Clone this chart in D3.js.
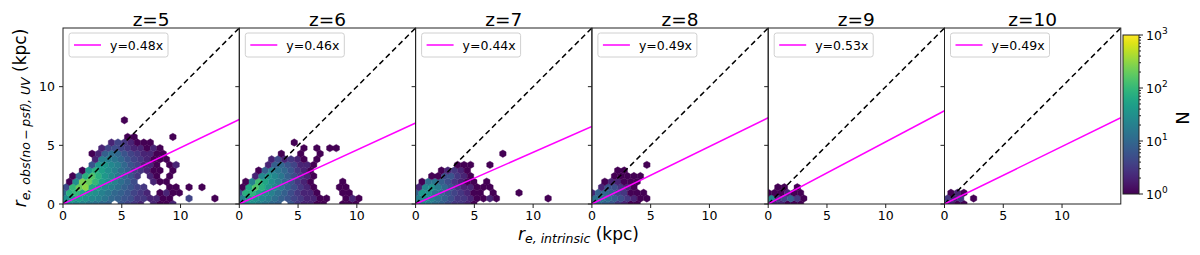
<!DOCTYPE html>
<html>
<head>
<meta charset="utf-8">
<script src="https://cdn.jsdelivr.net/npm/d3@7"></script>
<style>
  body { margin: 0; background: #fff; }
  svg text { font-family: "DejaVu Sans", sans-serif; fill: #000; }
</style>
</head>
<body>
<svg id="chart" width="1200" height="255"></svg>
<script>
// panel titles and fitted slopes
const titles = ['z=5', 'z=6', 'z=7', 'z=8', 'z=9', 'z=10'];
const slopes = [0.48, 0.46, 0.44, 0.49, 0.53, 0.49];
const xTicks = [0, 5, 10];
const yTicks = [0, 5, 10];
const cbTicks = [1, 10, 100, 1000];

// hexbin counts: one array per hex row (row j at y = j*dy, odd rows shifted half a cell)
const hexDx = 0.55;
const countsZ5 = [
  [20, 30, 25, 20, 15, 12, 10, 8, 0, 6, 4, 3, 2, 0, 2, 1, 1, 2],
  [30, 50, 45, 35, 25, 20, 15, 10, 8, 6, 5, 3, 3, 2, 2, 1, 1, 0, 0, 4, 0, 0, 0, 1],
  [10, 80, 100, 60, 40, 30, 20, 15, 10, 8, 6, 4, 3, 2, 0, 1, 2, 1, 1, 0],
  [5, 100, 200, 300, 60, 40, 25, 18, 12, 8, 6, 4, 3, 0, 0, 0, 1, 1, 0, 1, 0, 1],
  [0, 1, 30, 250, 200, 100, 50, 30, 20, 12, 8, 5, 0, 0, 2, 1, 1],
  [0, 1, 10, 80, 150, 80, 40, 25, 15, 10, 6, 3, 0, 2, 1, 0, 1],
  [0, 0, 0, 1, 40, 80, 50, 30, 20, 12, 8, 4, 3, 2, 1, 1, 0, 1],
  [0, 0, 0, 0, 6, 40, 40, 25, 18, 10, 6, 4, 2, 2, 1, 0, 1, 2],
  [0, 0, 0, 0, 0, 2, 20, 20, 15, 10, 6, 4, 3, 2, 1, 1, 1],
  [0, 0, 0, 0, 1, 2, 8, 12, 10, 6, 4, 3, 2, 2, 1, 1],
  [0, 0, 0, 0, 0, 0, 2, 4, 5, 4, 3, 2, 2, 1, 2, 1],
  [0, 0, 0, 0, 0, 0, 0, 2, 4, 3, 2, 1, 1, 1],
  [0, 0, 0, 0, 0, 0, 0, 0, 0, 0, 1, 1, 0, 0, 0, 0, 0, 1],
  [],
  [],
  [0, 0, 0, 0, 0, 0, 0, 0, 0, 1]
];
const countsZ6 = [
  [15, 25, 30, 20, 15, 10, 8, 0, 6, 3, 2, 2, 1, 1, 0, 0, 1, 1, 1],
  [20, 40, 35, 25, 18, 12, 8, 6, 4, 3, 2, 2, 1, 1, 0, 0, 1, 2, 1],
  [5, 80, 90, 50, 30, 20, 12, 8, 5, 3, 2, 2, 1, 0, 0, 0, 1, 1],
  [1, 60, 150, 80, 40, 25, 15, 8, 5, 3, 2, 1, 0, 0, 0, 1, 1],
  [0, 1, 20, 120, 60, 30, 18, 10, 6, 3, 2, 1, 0, 0, 0, 0, 1],
  [0, 0, 2, 25, 40, 25, 15, 8, 5, 3, 2, 1],
  [0, 0, 0, 1, 8, 20, 15, 10, 6, 3, 2, 1],
  [0, 0, 0, 0, 2, 8, 10, 6, 4, 2, 2, 1],
  [0, 0, 0, 0, 0, 2, 5, 2, 3, 2, 1, 0, 1],
  [0, 0, 0, 0, 0, 0, 1, 0, 0, 1, 0, 0, 1],
  [0, 0, 0, 0, 0, 0, 0, 0, 0, 0, 1, 0, 1, 0, 1, 1],
  [0, 0, 0, 0, 0, 0, 0, 0, 1]
];
const countsZ7 = [
  [15, 20, 18, 12, 8, 5, 3, 3, 2, 1],
  [20, 30, 20, 12, 8, 5, 3, 3, 2, 1, 1, 2, 1, 0, 0, 0, 0, 0, 0, 0, 1],
  [8, 40, 30, 15, 10, 6, 4, 3, 2, 1, 1, 0, 1, 0, 0, 0, 1],
  [2, 25, 35, 18, 10, 6, 3, 2, 2, 1, 1, 1],
  [0, 1, 12, 15, 8, 5, 3, 2, 1, 1, 0, 1],
  [0, 0, 1, 1, 5, 6, 3, 2, 1],
  [0, 0, 0, 0, 1, 2, 3, 2, 1],
  [0, 0, 0, 0, 0, 0, 1, 1, 1, 0, 0, 1],
  [],
  [0, 0, 0, 0, 0, 0, 0, 0, 0, 0, 0, 0, 0, 1]
];
const countsZ8 = [
  [8, 10, 8, 6, 3, 2, 1, 1],
  [12, 15, 12, 8, 5, 3, 2, 1, 1],
  [2, 8, 10, 8, 4, 3, 1, 1, 1],
  [0, 2, 6, 5, 3, 2, 1],
  [0, 0, 1, 2, 2, 1, 1, 1],
  [0, 0, 0, 1, 1, 1, 1, 1],
  [0, 0, 0, 0, 1, 1],
  [0, 0, 0, 0, 0, 0, 0, 0, 1]
];
const countsZ9 = [
  [8, 2, 2, 1, 1, 1],
  [25, 3, 4, 8, 3, 1],
  [1, 1, 1, 2, 1, 1],
  [0, 1, 1, 0, 1]
];
const countsZ10 = [
  [20, 2, 1, 1],
  [3, 2, 3, 0, 1],
  [0, 1, 2, 1]
];
const allCounts = [countsZ5, countsZ6, countsZ7, countsZ8, countsZ9, countsZ10];

const svg = d3.select('#chart');
const plotTop = 28;
const plotH = 176;
const plotW = 176.3;
const firstLeft = 63;

const color = d3.scaleSequentialLog(d3.interpolateViridis).domain([1, 1000]).clamp(true);
const x = d3.scaleLinear().domain([0, 15]).range([0, plotW]);
const y = d3.scaleLinear().domain([0, 15]).range([plotH, 0]);

const hexDy = hexDx * Math.sqrt(3) / 2;
const hexR = (x(hexDx) - x(0)) / Math.sqrt(3);
function hexPath(cx, cy) {
  const pts = d3.range(6).map(k => {
    const a = Math.PI / 180 * (60 * k - 90);
    return [cx + hexR * Math.cos(a), cy + hexR * Math.sin(a)];
  });
  return 'M' + pts.map(p => p.join(',')).join('L') + 'Z';
}

titles.forEach((title, p) => {
  const left = firstLeft + p * plotW;
  const g = svg.append('g').attr('transform', `translate(${left},${plotTop})`);

  g.append('clipPath').attr('id', 'clip' + p)
    .append('rect').attr('width', plotW).attr('height', plotH);

  const inner = g.append('g').attr('clip-path', `url(#clip${p})`);

  // hexes
  const cells = [];
  allCounts[p].forEach((row, j) => {
    row.forEach((n, i) => {
      if (n > 0) cells.push({ x: (i + (j % 2) * 0.5) * hexDx, y: j * hexDy, n: n });
    });
  });
  inner.selectAll('path.hex')
    .data(cells)
    .enter()
    .append('path')
    .attr('class', 'hex')
    .attr('d', d => hexPath(x(d.x), y(d.y)))
    .attr('fill', d => color(d.n))
    .attr('stroke', d => color(d.n))
    .attr('stroke-width', 0.4);

  // one-to-one line
  inner.append('line')
    .attr('x1', x(0)).attr('y1', y(0))
    .attr('x2', x(15)).attr('y2', y(15))
    .attr('stroke', '#000')
    .attr('stroke-width', 1.5)
    .attr('stroke-dasharray', '5.5,3.5');

  // fit line
  inner.append('line')
    .attr('x1', x(0)).attr('y1', y(0))
    .attr('x2', x(15)).attr('y2', y(15 * slopes[p]))
    .attr('stroke', '#ff00ff')
    .attr('stroke-width', 1.5);

  // frame
  g.append('rect')
    .attr('width', plotW).attr('height', plotH)
    .attr('fill', 'none').attr('stroke', '#222').attr('stroke-width', 1);

  // x ticks
  xTicks.forEach(t => {
    g.append('line').attr('x1', x(t)).attr('x2', x(t))
      .attr('y1', plotH).attr('y2', plotH + 4)
      .attr('stroke', '#222');
    g.append('text').attr('x', x(t)).attr('y', plotH + 16)
      .attr('text-anchor', 'middle').attr('font-size', 12.5)
      .text(t);
  });

  // y ticks
  yTicks.forEach(t => {
    g.append('line').attr('x1', -4).attr('x2', 0)
      .attr('y1', y(t)).attr('y2', y(t))
      .attr('stroke', '#222');
    if (p === 0) {
      g.append('text').attr('x', -8).attr('y', y(t) + 4.5)
        .attr('text-anchor', 'end').attr('font-size', 12.5)
        .text(t);
    }
  });

  // title
  g.append('text').attr('x', plotW / 2).attr('y', -2)
    .attr('text-anchor', 'middle').attr('font-size', 18.5)
    .text(title);

  // legend
  const lg = g.append('g').attr('transform', 'translate(6,5)');
  lg.append('rect').attr('width', 99).attr('height', 24)
    .attr('rx', 2.5).attr('fill', '#fff').attr('stroke', '#d0d0d0');
  lg.append('line').attr('x1', 5).attr('x2', 32).attr('y1', 12).attr('y2', 12)
    .attr('stroke', '#ff00ff').attr('stroke-width', 1.5);
  lg.append('text').attr('x', 41).attr('y', 16.5).attr('font-size', 12.5)
    .text(`y=${slopes[p].toFixed(2)}x`);
});

// axis labels
const yl = svg.append('text')
  .attr('transform', 'translate(26,118) rotate(-90)')
  .attr('text-anchor', 'middle');
yl.append('tspan').attr('font-size', 17).attr('font-style', 'italic').text('r');
yl.append('tspan').attr('font-size', 12.5).attr('font-style', 'italic').attr('dy', 4)
  .text('e, obs(no\u2009\u2212\u2009psf), UV');
yl.append('tspan').attr('font-size', 17).attr('dy', -4).text(' (kpc)');

const xl = svg.append('text')
  .attr('x', 518).attr('y', 240);
xl.append('tspan').attr('font-size', 17).attr('font-style', 'italic').text('r');
xl.append('tspan').attr('font-size', 12.5).attr('font-style', 'italic').attr('dy', 3)
  .text('e, intrinsic');
xl.append('tspan').attr('font-size', 17).attr('dy', -3).text(' (kpc)');

// colorbar
const cbX = 1123, cbY = 35, cbW = 16, cbH = 159;
const cbScale = d3.scaleLog().domain([1, 1000]).range([cbY + cbH, cbY]);
const defs = svg.append('defs');
const grad = defs.append('linearGradient').attr('id', 'cbgrad')
  .attr('x1', 0).attr('y1', 1).attr('x2', 0).attr('y2', 0);
d3.range(0, 1.0001, 0.05).forEach(f => {
  grad.append('stop').attr('offset', f).attr('stop-color', d3.interpolateViridis(f));
});
svg.append('rect').attr('x', cbX).attr('y', cbY).attr('width', cbW).attr('height', cbH)
  .attr('fill', 'url(#cbgrad)').attr('stroke', '#222').attr('stroke-width', 1);

const minor = [];
[1, 10, 100].forEach(d => d3.range(2, 10).forEach(m => minor.push(d * m)));
minor.forEach(v => {
  svg.append('line').attr('x1', cbX + cbW).attr('x2', cbX + cbW + 2)
    .attr('y1', cbScale(v)).attr('y2', cbScale(v)).attr('stroke', '#222');
});
cbTicks.forEach((v, k) => {
  svg.append('line').attr('x1', cbX + cbW).attr('x2', cbX + cbW + 4)
    .attr('y1', cbScale(v)).attr('y2', cbScale(v)).attr('stroke', '#222');
  const t = svg.append('text').attr('x', cbX + cbW + 7).attr('y', cbScale(v) + 4.5)
    .attr('font-size', 12.5);
  t.append('tspan').text('10');
  t.append('tspan').attr('font-size', 9).attr('dy', -6).text(k);
});
svg.append('text')
  .attr('transform', 'translate(1189,118) rotate(-90)')
  .attr('text-anchor', 'middle').attr('font-size', 18)
  .text('N');
</script>
</body>
</html>
